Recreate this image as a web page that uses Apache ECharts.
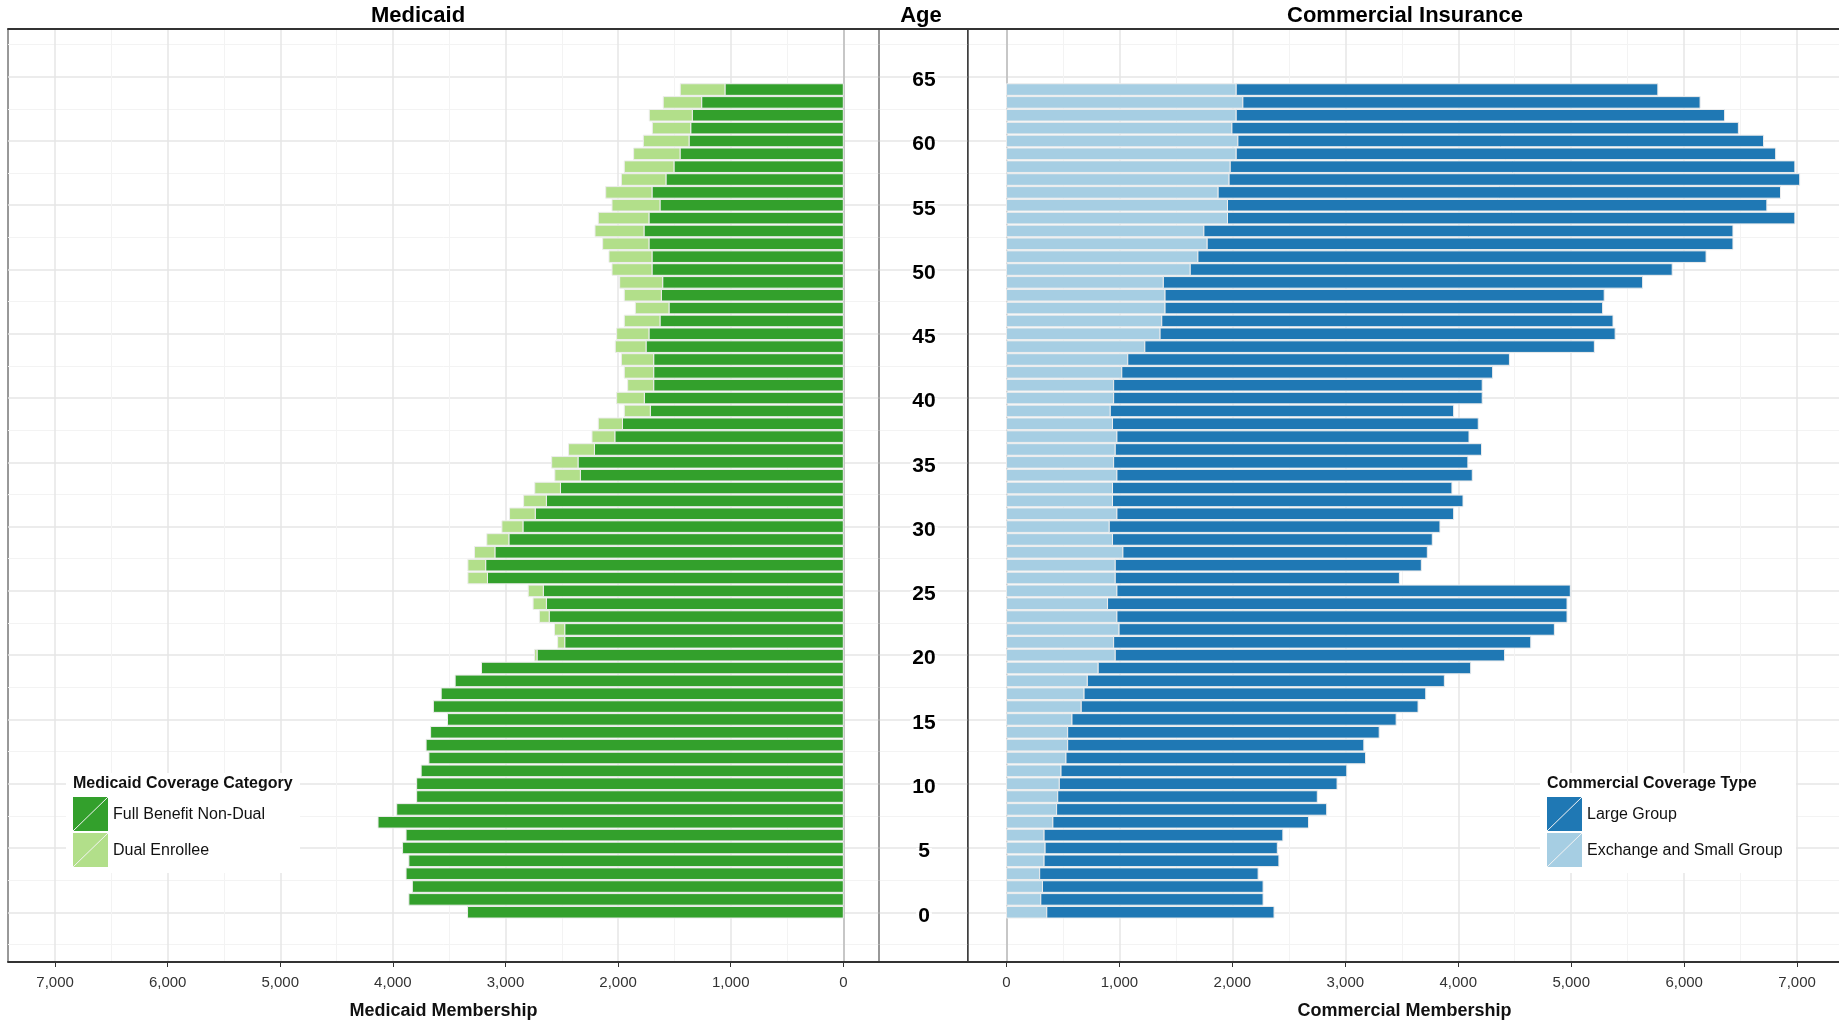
<!DOCTYPE html>
<html>
<head>
<meta charset="utf-8">
<script src="https://cdn.jsdelivr.net/npm/echarts@6/dist/echarts.min.js"></script>
<style>
  html, body { margin: 0; padding: 0; background: #fff; }
  #chart { width: 1839px; height: 1021px; }
</style>
</head>
<body>
<div id="chart"></div>
<script>
// ages 0..64, one value per age
const ages = Array.from({ length: 65 }, (_, i) => i);

const fullBenefit = [
  3337, 3858, 3827, 3883, 3858, 3914, 3883, 4132, 3966, 3789,
  3789, 3749, 3680, 3705, 3665, 3515, 3640, 3571, 3447, 3213,
  2720, 2474, 2474, 2612, 2637, 2664, 3160, 3176, 3094, 2970,
  2845, 2736, 2637, 2512, 2335, 2356, 2210, 2029, 1961, 1714,
  1767, 1684, 1684, 1684, 1752, 1726, 1628, 1548, 1616, 1604,
  1699, 1699, 1726, 1770, 1726, 1628, 1699, 1575, 1504, 1450,
  1370, 1355, 1341, 1258, 1051
];
const dualEnrollee = [
  0, 0, 0, 0, 0, 0, 0, 0, 0, 0,
  0, 0, 0, 0, 0, 0, 0, 0, 0, 0,
  22, 63, 91, 87, 118, 134, 174, 158, 181, 196,
  187, 228, 202, 228, 227, 234, 230, 203, 215, 231,
  246, 231, 261, 287, 273, 287, 317, 299, 329, 382,
  355, 382, 411, 435, 450, 426, 411, 396, 441, 412,
  406, 341, 382, 341, 397
];
const smallGroup = [
  357, 304, 319, 294, 333, 342, 333, 411, 444, 454,
  468, 483, 527, 542, 542, 580, 662, 687, 716, 812,
  963, 949, 997, 978, 895, 978, 963, 963, 1031, 939,
  910, 978, 939, 939, 978, 949, 963, 978, 939, 919,
  949, 949, 1021, 1074, 1225, 1360, 1375, 1404, 1404, 1389,
  1627, 1695, 1777, 1748, 1957, 1957, 1874, 1971, 1981, 2034,
  2049, 1996, 2034, 2093, 2034
];
const largeGroup = [
  2012, 1968, 1953, 1934, 2079, 2056, 2114, 2263, 2391, 2298,
  2459, 2530, 2652, 2622, 2758, 2870, 2982, 3025, 3161, 3298,
  3447, 3693, 3854, 3985, 4068, 4014, 2516, 2710, 2695, 2831,
  2928, 2981, 3103, 3005, 3146, 3136, 3243, 3117, 3238, 3040,
  3263, 3263, 3283, 3379, 3980, 4029, 3995, 3874, 3888, 4243,
  4267, 4499, 4655, 4684, 5023, 4775, 4979, 5052, 4999, 4776,
  4654, 4484, 4324, 4048, 3733
];

const memberTicks = [0, 1000, 2000, 3000, 4000, 5000, 6000, 7000];
const memberMinor = [500, 1500, 2500, 3500, 4500, 5500, 6500];
const ageTicks = [0, 5, 10, 15, 20, 25, 30, 35, 40, 45, 50, 55, 60, 65];
const ageMinor = [-2.5, 2.5, 7.5, 12.5, 17.5, 22.5, 27.5, 32.5, 37.5, 42.5, 47.5, 52.5, 57.5, 62.5, 67.5];

const FONT = "'Liberation Sans', Arial, sans-serif";
const AGE_MIN = -3.87, AGE_MAX = 68.71;
const MAJOR = "#e6e6e6", MINOR = "#f3f3f3";

// stacked segments [age, start, end]
function segments(inner, outer, outerOnTop) {
  return ages
    .map((a) => (outerOnTop ? [a, inner[a], inner[a] + outer[a]] : [a, 0, inner[a]]))
    .filter((d) => d[2] > d[1]);
}

function barItem(color) {
  return function (params, api) {
    const age = api.value(0);
    const p1 = api.coord([api.value(1), age + 0.45]);
    const p2 = api.coord([api.value(2), age - 0.45]);
    return {
      type: "rect",
      shape: {
        x: Math.min(p1[0], p2[0]),
        y: Math.min(p1[1], p2[1]),
        width: Math.abs(p2[0] - p1[0]),
        height: Math.abs(p2[1] - p1[1]),
      },
      style: { fill: color, stroke: "#ededed", lineWidth: 1 },
    };
  };
}

function barSeries(name, data, color, axisIdx) {
  return {
    name,
    type: "custom",
    coordinateSystem: "cartesian2d",
    xAxisIndex: axisIdx,
    yAxisIndex: axisIdx,
    encode: { x: [1, 2], y: 0 },
    renderItem: barItem(color),
    data,
  };
}

function memberAxis(grid, min, max, inverse, name) {
  return [
    {
      type: "value", gridIndex: grid, position: "bottom", min, max, inverse,
      name, nameLocation: "middle", nameGap: 40,
      nameTextStyle: { fontFamily: FONT, fontWeight: "bold", fontSize: 18, color: "#111" },
      axisLine: { show: true, onZero: false, lineStyle: { color: "#333", width: 2 } },
      axisTick: { show: true, length: 5, customValues: memberTicks, lineStyle: { color: "#333" } },
      axisLabel: { customValues: memberTicks, fontFamily: FONT, fontSize: 15, color: "#333", margin: 13 },
      splitLine: { show: true, lineStyle: { color: MAJOR, width: 1.5 } },
    },
    {
      type: "value", gridIndex: grid, position: "top", min, max, inverse,
      axisLine: { show: true, onZero: false, lineStyle: { color: "#333", width: 2 } },
      axisTick: { show: true, length: 0, customValues: memberMinor },
      axisLabel: { show: false },
      splitLine: { show: true, lineStyle: { color: MINOR, width: 1 } },
    },
  ];
}

function ageAxes(grid, zeroColor) {
  return [
    {
      type: "value", gridIndex: grid, min: AGE_MIN, max: AGE_MAX,
      axisLine: { show: true, onZero: true, lineStyle: { color: zeroColor, width: 1.5 } },
      axisTick: { show: true, length: 0, customValues: ageTicks },
      axisLabel: { show: false },
      splitLine: { show: true, lineStyle: { color: MAJOR, width: 1.5 } },
    },
    {
      type: "value", gridIndex: grid, min: AGE_MIN, max: AGE_MAX,
      axisLine: { show: false },
      axisTick: { show: true, length: 0, customValues: ageMinor },
      axisLabel: { show: false },
      splitLine: { show: true, lineStyle: { color: MINOR, width: 1 } },
    },
  ];
}

function legendBox(x, y, w, title, items) {
  const children = [
    { type: "rect", z: 100, shape: { x, y, width: w, height: 100 }, style: { fill: "#fff" } },
    {
      type: "text", z: 101,
      style: { x: x + 7, y: y + 11, text: title, font: `bold 16px ${FONT}`, fill: "#111", verticalAlign: "middle" },
    },
  ];
  items.forEach((it, i) => {
    const ky = y + 24 + i * 36;
    children.push(
      { type: "rect", z: 101, shape: { x: x + 7, y: ky, width: 35, height: 34 }, style: { fill: it.color } },
      { type: "line", z: 102, shape: { x1: x + 7, y1: ky + 34, x2: x + 42, y2: ky }, style: { stroke: "#f4f4f4", lineWidth: 1 } },
      {
        type: "text", z: 101,
        style: { x: x + 47, y: ky + 18, text: it.label, font: `16px ${FONT}`, fill: "#111", verticalAlign: "middle" },
      }
    );
  });
  return { type: "group", z: 100, children };
}

const chart = echarts.init(document.getElementById("chart"));

chart.setOption({
  animation: false,
  backgroundColor: "#fff",
  grid: [
    { left: 8, top: 29, width: 871, height: 933, show: true, borderColor: "#333", borderWidth: 1, outerBoundsMode: "none", containLabel: false },
    { left: 879, top: 29, width: 88.5, height: 933, outerBoundsMode: "none", containLabel: false },
    { left: 967.5, top: 29, width: 874, height: 933, show: true, borderColor: "#333", borderWidth: 1, outerBoundsMode: "none", containLabel: false },
  ],
  xAxis: [
    ...memberAxis(0, -317, 7418, true, "Medicaid Membership"),
    {
      type: "value", gridIndex: 1, min: 0, max: 1, position: "bottom",
      axisLine: { show: true, onZero: false, lineStyle: { color: "#333", width: 2 } },
      axisTick: { show: false }, axisLabel: { show: false }, splitLine: { show: false },
    },
    {
      type: "value", gridIndex: 1, min: 0, max: 1, position: "top",
      axisLine: { show: true, onZero: false, lineStyle: { color: "#333", width: 2 } },
      axisTick: { show: false }, axisLabel: { show: false }, splitLine: { show: false },
    },
    ...memberAxis(2, -345, 7393, false, "Commercial Membership"),
  ],
  yAxis: [
    ...ageAxes(0, "#bbbbbb"),
    {
      type: "value", gridIndex: 1, min: AGE_MIN, max: AGE_MAX, position: "left",
      axisLine: { show: true, onZero: false, lineStyle: { color: "#999", width: 1.5 } },
      axisTick: { show: true, length: 0, customValues: ageTicks },
      axisLabel: {
        customValues: ageTicks, inside: true, align: "center", margin: 45,
        verticalAlign: "top", lineHeight: 7,
        fontFamily: FONT, fontWeight: "bold", fontSize: 21, color: "#000",
        backgroundColor: "#fff", padding: [0, 2],
      },
      splitLine: { show: true, lineStyle: { color: MAJOR, width: 1.5 } },
    },
    {
      type: "value", gridIndex: 1, min: AGE_MIN, max: AGE_MAX, position: "right",
      axisLine: { show: true, onZero: false, lineStyle: { color: "#444", width: 1.5 } },
      axisTick: { show: true, length: 0, customValues: ageMinor },
      axisLabel: { show: false },
      splitLine: { show: true, lineStyle: { color: MINOR, width: 1 } },
    },
    ...ageAxes(2, "#bbbbbb"),
  ],
  series: [
    barSeries("Full Benefit Non-Dual", segments(fullBenefit, null, false), "#33a02c", 0),
    barSeries("Dual Enrollee", segments(fullBenefit, dualEnrollee, true), "#b2df8a", 0),
    barSeries("Exchange and Small Group", segments(smallGroup, null, false), "#a6cee3", 4),
    barSeries("Large Group", segments(smallGroup, largeGroup, true), "#1f78b4", 4),
  ],
  graphic: [
    { type: "text", style: { x: 418, y: 16, text: "Medicaid", font: `bold 22px ${FONT}`, fill: "#000", align: "center", verticalAlign: "middle" } },
    { type: "text", style: { x: 921, y: 16, text: "Age", font: `bold 22px ${FONT}`, fill: "#000", align: "center", verticalAlign: "middle" } },
    { type: "text", style: { x: 1405, y: 16, text: "Commercial Insurance", font: `bold 22px ${FONT}`, fill: "#000", align: "center", verticalAlign: "middle" } },
    legendBox(66, 773, 234, "Medicaid Coverage Category", [
      { label: "Full Benefit Non-Dual", color: "#33a02c" },
      { label: "Dual Enrollee", color: "#b2df8a" },
    ]),
    legendBox(1540, 773, 256, "Commercial Coverage Type", [
      { label: "Large Group", color: "#1f78b4" },
      { label: "Exchange and Small Group", color: "#a6cee3" },
    ]),
  ],
});
</script>
</body>
</html>
